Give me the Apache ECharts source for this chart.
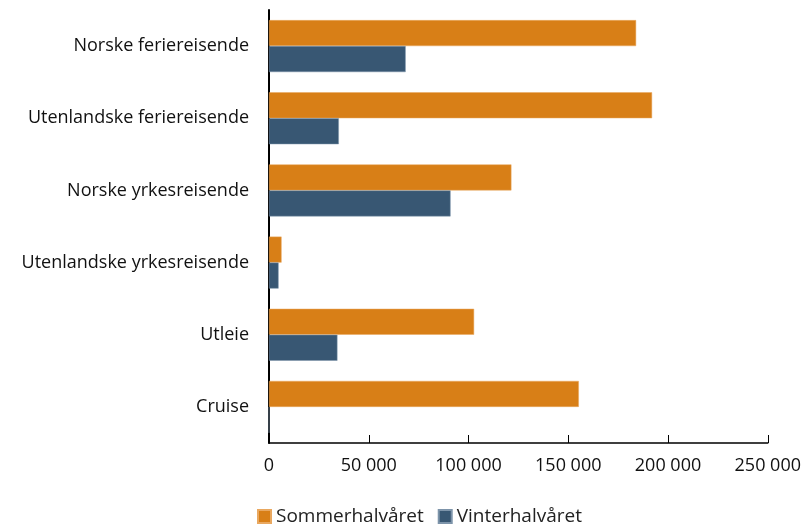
<!DOCTYPE html>
<html>
<head>
<meta charset="utf-8">
<script src="https://cdn.jsdelivr.net/npm/echarts@6/dist/echarts.min.js"></script>
<style>
	html, body { margin: 0; padding: 0; background: #fff; }
	#chart { width: 804px; height: 527px; }
</style>
</head>
<body>
<div id="chart"></div>
<script>
// kategorier, øverst først
const categories = [
	'Norske feriereisende',
	'Utenlandske feriereisende',
	'Norske yrkesreisende',
	'Utenlandske yrkesreisende',
	'Utleie',
	'Cruise',
];
const sommer = [184000, 192000, 121500, 6300, 102800, 155300];
const vinter = [68500, 35000, 91000, 4800, 34300, 0];
const seriesNames = ['Sommerhalvåret', 'Vinterhalvåret'];
const xTicks = [0, 50000, 100000, 150000, 200000, 250000];

const font = '"Open Sans", Lato, sans-serif';
const fmt = v => String(v).replace(/\B(?=(\d{3})+(?!\d))/g, ' ');

const chart = echarts.init(document.getElementById('chart'));
chart.setOption({
	animation: false,
	textStyle: { fontFamily: font },
	legend: {
		top: 502,
		left: 252,
		itemWidth: 13,
		itemHeight: 13,
		itemGap: 14,
		icon: 'rect',
		textStyle: { fontSize: 19, color: '#222', fontFamily: font },
		data: seriesNames,
	},
	grid: {
		left: 269,
		right: 35,
		top: 10,
		bottom: 84,
	},
	xAxis: {
		type: 'value',
		min: xTicks[0],
		max: xTicks[xTicks.length - 1],
		interval: 50000,
		axisLine: { show: true, lineStyle: { color: '#000', width: 1.5 } },
		axisTick: { show: true, inside: true, length: 8, lineStyle: { color: '#000', width: 1 } },
		splitLine: { show: false },
		axisLabel: {
			margin: 14,
			fontSize: 18,
			color: '#111',
			formatter: v => fmt(v),
		},
	},
	yAxis: {
		type: 'category',
		inverse: true,
		data: categories,
		axisLine: { show: true, lineStyle: { color: '#000', width: 2 } },
		axisTick: { show: false },
		axisLabel: { margin: 20, fontSize: 18, color: '#111' },
	},
	series: [
		{
			name: seriesNames[0],
			type: 'bar',
			data: sommer,
			barGap: '0%',
			barCategoryGap: '28%',
			itemStyle: { color: '#d87f17', borderColor: '#e9a860', borderWidth: 0.5 },
		},
		{
			name: seriesNames[1],
			type: 'bar',
			data: vinter,
			itemStyle: { color: '#385773', borderColor: '#7d94aa', borderWidth: 0.5 },
		},
	],
});
</script>
</body>
</html>
